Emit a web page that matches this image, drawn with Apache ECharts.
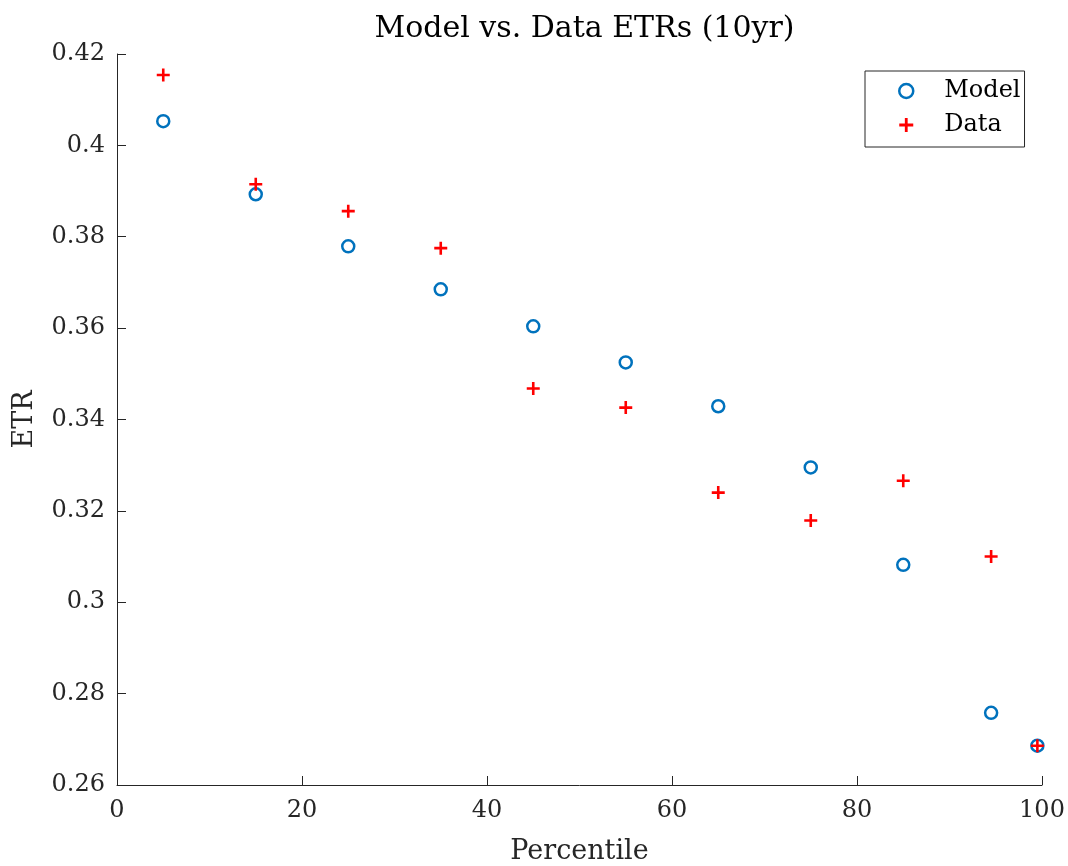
<!DOCTYPE html>
<html><head><meta charset="utf-8">
<script src="https://cdn.jsdelivr.net/npm/echarts@6/dist/echarts.min.js"></script>
<style>html,body{margin:0;padding:0;background:#fff}#c{width:1068px;height:866px}</style>
</head><body><div id="c"></div>
<script>
const percentiles = [5, 15, 25, 35, 45, 55, 65, 75, 85, 94.5, 99.5];
const modelETR = [0.4053, 0.3893, 0.3779, 0.3685, 0.3604, 0.3525, 0.3429, 0.3295, 0.3082, 0.2758, 0.2686];
const dataETR  = [0.4154, 0.3915, 0.3856, 0.3775, 0.3468, 0.3426, 0.3240, 0.3179, 0.3266, 0.3100, 0.2686];
const yTicks = {min: 0.26, max: 0.42, step: 0.02};
const xTicks = {min: 0, max: 100, step: 20};

const FONT = 'DejaVu Serif';
const TXT = '#262626';
const plus = 'path://M4,0H6V4H10V6H6V10H4V6H0V4H4Z';

const chart = echarts.init(document.getElementById('c'));
chart.setOption({
  animation: false,
  backgroundColor: '#fff',
  title: {
    text: 'Model vs. Data ETRs (10yr)',
    left: 579.5, textAlign: 'center', top: 9,
    textStyle: {fontFamily: FONT, fontSize: 30, fontWeight: 'normal', color: '#000'}
  },
  grid: {left: 117, right: 26, top: 54, bottom: 81, containLabel: false, outerBoundsMode: 'none'},
  legend: {
    left: 865, top: 71, orient: 'vertical',
    padding: [8, 4, 10, 33],
    itemGap: 10, itemWidth: 14, itemHeight: 14,
    borderColor: '#262626', borderWidth: 1, backgroundColor: '#fff',
    textStyle: {fontFamily: FONT, fontSize: 24, color: '#000', lineHeight: 24, padding: [0, 0, 0, 26]},
    data: [
      {name: 'Model', icon: 'circle', itemStyle: {color: 'rgba(0,0,0,0)', borderColor: '#0072BD', borderWidth: 2.5, opacity: 1}},
      {name: 'Data', icon: plus, itemStyle: {color: '#FF0000', borderWidth: 0, opacity: 1}}
    ]
  },
  xAxis: {
    type: 'value', min: xTicks.min, max: xTicks.max, interval: xTicks.step,
    name: 'Percentile', nameLocation: 'middle', nameGap: 53,
    nameTextStyle: {fontFamily: FONT, fontSize: 27, color: TXT},
    axisLine: {show: true, lineStyle: {color: TXT, width: 1}},
    axisTick: {show: true, inside: true, length: 9, lineStyle: {color: TXT}},
    axisLabel: {fontFamily: FONT, fontSize: 24, color: TXT, margin: 14},
    splitLine: {show: false}
  },
  yAxis: {
    type: 'value', min: yTicks.min, max: yTicks.max, interval: yTicks.step,
    name: 'ETR', nameLocation: 'middle', nameGap: 79, nameRotate: 90,
    nameTextStyle: {fontFamily: FONT, fontSize: 27, color: TXT},
    axisLine: {show: true, lineStyle: {color: TXT, width: 1}},
    axisTick: {show: true, inside: true, length: 9, lineStyle: {color: TXT}},
    axisLabel: {fontFamily: FONT, fontSize: 24, color: TXT, margin: 12,
      formatter: v => String(+v.toFixed(2))},
    splitLine: {show: false}
  },
  series: [
    {
      name: 'Model', type: 'scatter', symbol: 'circle', symbolSize: 12,
      itemStyle: {color: 'rgba(0,0,0,0)', borderColor: '#0072BD', borderWidth: 2.5, opacity: 1},
      data: percentiles.map((p, i) => [p, modelETR[i]]), z: 2
    },
    {
      name: 'Data', type: 'scatter', symbol: plus, symbolSize: 13,
      itemStyle: {color: '#FF0000', opacity: 1},
      data: percentiles.map((p, i) => [p, dataETR[i]]), z: 3
    }
  ]
});
</script></body></html>
